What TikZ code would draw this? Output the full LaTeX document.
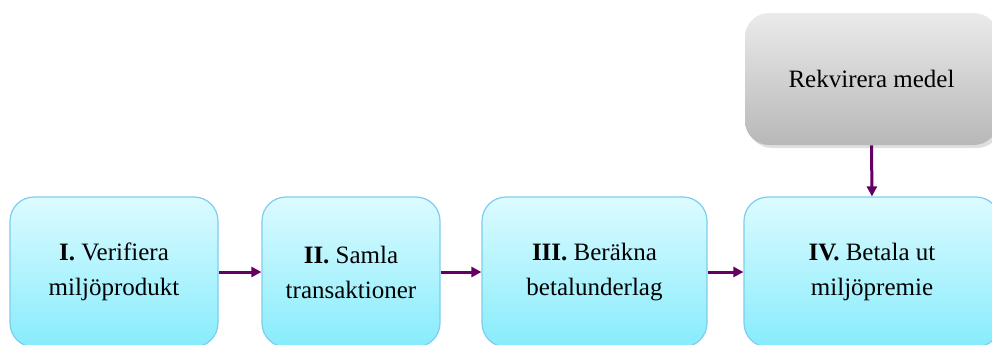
\documentclass[tikz,border=0pt]{standalone}
\usepackage{fontspec}
\setmainfont{Liberation Serif}
\usetikzlibrary{arrows.meta,shadows}
\definecolor{pathpurple}{RGB}{100,0,100}
\definecolor{stepline}{RGB}{125,205,240}
\definecolor{steptop}{RGB}{220,251,255}
\definecolor{stepbottom}{RGB}{135,236,252}
\begin{document}
\begin{tikzpicture}[
		x=0.5pt, y=-0.5pt,
		stepbox/.style = {rectangle, rounded corners=12pt, draw=stepline, line width=0.6pt,
			top color=steptop, bottom color=stepbottom, minimum height=75pt,
			align=center, font=\fontsize{12.5}{17.5}\selectfont},
		fundbox/.style = {rectangle, rounded corners=12pt, draw=none,
			top color=black!8, bottom color=black!28, minimum width=126.5pt, minimum height=66pt,
			drop shadow={opacity=0.25, shadow xshift=1.5pt, shadow yshift=-1.5pt},
			font=\fontsize{12.5}{17.5}\selectfont},
		r/.style = {-{Triangle[length=5pt,width=5pt]}, draw=pathpurple, line width=1.5pt}
		]
		\clip (0,0) rectangle (992,344);
		\useasboundingbox (0,0) rectangle (992,344);
		
		%Nodes
		\node[stepbox, minimum width=104pt]		(verify)	at	(114, 272)		{\textbf{I.} Verifiera\\miljöprodukt};
		\node[stepbox, minimum width=89pt]		(collect)	at	(351, 272)		{\textbf{II.} Samla\\transaktioner};
		\node[stepbox, minimum width=112.5pt]	(compute)	at	(594.5, 272)	{\textbf{III.} Beräkna\\betalunderlag};
		\node[stepbox, minimum width=128pt]		(pay)		at	(872, 272)		{\textbf{IV.} Betala ut\\miljöpremie};
		\node[fundbox]							(funds)		at	(871.5, 79)		{Rekvirera medel};
		
		%Lines
		\draw[r]	(verify.east)	to	(collect.west);
		\draw[r]	(collect.east)	to	(compute.west);
		\draw[r]	(compute.east)	to	(pay.west);
		\draw[r]	(funds.south)	to	(pay.north);
	\end{tikzpicture}
\end{document}
